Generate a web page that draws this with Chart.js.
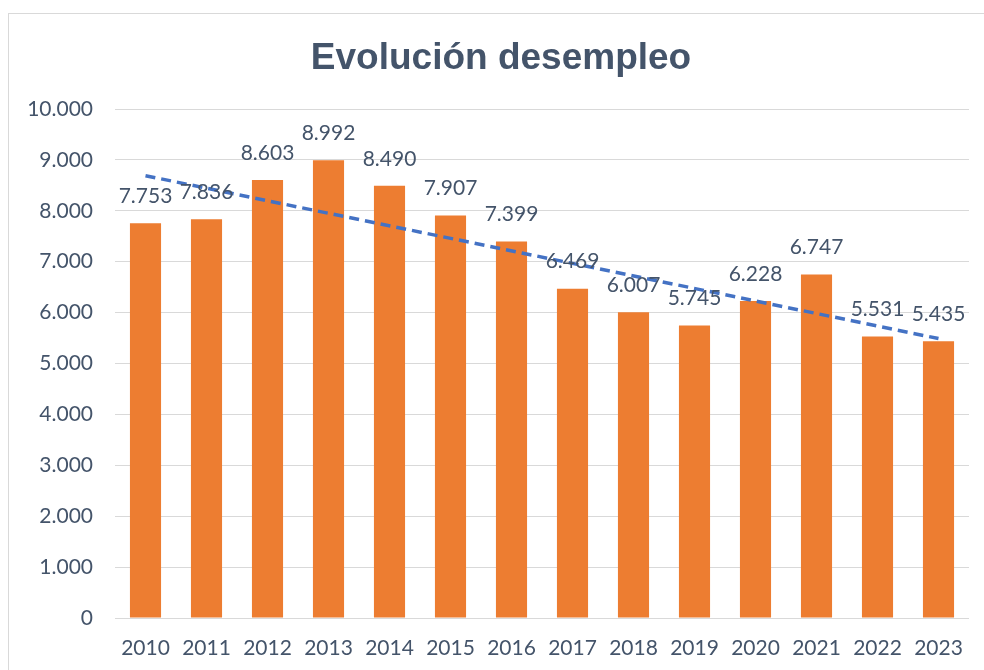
<!DOCTYPE html>
<html>
<head>
<meta charset="utf-8">
<script src="https://cdn.jsdelivr.net/npm/chart.js@4.4.0/dist/chart.umd.min.js"></script>
<style>
    html, body { margin: 0; padding: 0; background: #fff; }
    #wrap { position: relative; width: 984px; height: 670px; overflow: hidden; }
    #frame { position: absolute; left: 8px; top: 13px; width: 1000px; height: 700px; border: 1px solid #d9d9d9; }
    #grafik { position: absolute; left: 0; top: 0; }
</style>
</head>
<body>
<div id="wrap">
    <div id="frame"></div>
    <canvas id="grafik" width="984" height="670"></canvas>
</div>
<script>
    const years = ['2010', '2011', '2012', '2013', '2014', '2015', '2016', '2017', '2018', '2019', '2020', '2021', '2022', '2023'];
    const desempleo = [7753, 7836, 8603, 8992, 8490, 7907, 7399, 6469, 6007, 5745, 6228, 6747, 5531, 5435];
    // linear trend, first and last year
    const tendencia = [8690, 5490];
    const yTicks = [0, 1000, 2000, 3000, 4000, 5000, 6000, 7000, 8000, 9000, 10000];
    const titulo = 'Evolución desempleo';

    const textColor = '#44546a';
    const fmt = v => String(v).replace(/\B(?=(\d{3})+(?!\d))/g, '.');

    const trendData = years.map((y, i) => i === 0 ? tendencia[0] : (i === years.length - 1 ? tendencia[1] : null));

    // title over the frame, plus value labels above the bars
    const barLabels = {
        id: 'barLabels',
        afterDatasetsDraw(chart) {
            const ctx = chart.ctx;
            const meta = chart.getDatasetMeta(0);
            ctx.save();
            ctx.fillStyle = textColor;
            ctx.textAlign = 'center';

            ctx.font = 'bold 37px "Liberation Sans", Arial, sans-serif';
            ctx.textBaseline = 'alphabetic';
            ctx.fillText(titulo, 501, 69);

            ctx.font = '21px Lato';
            ctx.textBaseline = 'middle';
            meta.data.forEach((bar, i) => {
                ctx.fillText(fmt(desempleo[i]), bar.x, bar.y - 27);
            });
            ctx.restore();
        }
    };

    new Chart(document.getElementById('grafik'), {
        type: 'bar',
        data: {
            labels: years,
            datasets: [{
                label: 'Desempleo',
                data: desempleo,
                backgroundColor: '#ed7d31',
                borderWidth: 0,
                barPercentage: 0.51,
                categoryPercentage: 1,
                order: 2
            }, {
                type: 'line',
                label: 'Tendencia',
                data: trendData,
                spanGaps: true,
                borderColor: '#4472c4',
                borderWidth: 3.5,
                borderDash: [10, 6],
                pointRadius: 0,
                fill: false,
                order: 1
            }]
        },
        options: {
            responsive: false,
            animation: false,
            layout: { padding: { left: 0, right: 15, top: 109, bottom: 0 } },
            plugins: {
                legend: { display: false },
                tooltip: { enabled: false },
                title: { display: false }
            },
            scales: {
                x: {
                    afterFit: scale => { scale.height = 52; },
                    grid: { display: false, drawTicks: false },
                    border: { display: false },
                    ticks: { color: textColor, font: { family: 'Lato', size: 21 }, padding: 18, maxRotation: 0 }
                },
                y: {
                    min: 0,
                    max: 10000,
                    afterBuildTicks: scale => { scale.ticks = yTicks.map(v => ({ value: v })); },
                    afterFit: scale => { scale.width = 115; },
                    grid: { color: '#d9d9d9', lineWidth: 1, drawTicks: false },
                    border: { display: false },
                    ticks: { color: textColor, font: { family: 'Lato', size: 21 }, padding: 22, callback: v => fmt(v) }
                }
            }
        },
        plugins: [barLabels]
    });
</script>
</body>
</html>
